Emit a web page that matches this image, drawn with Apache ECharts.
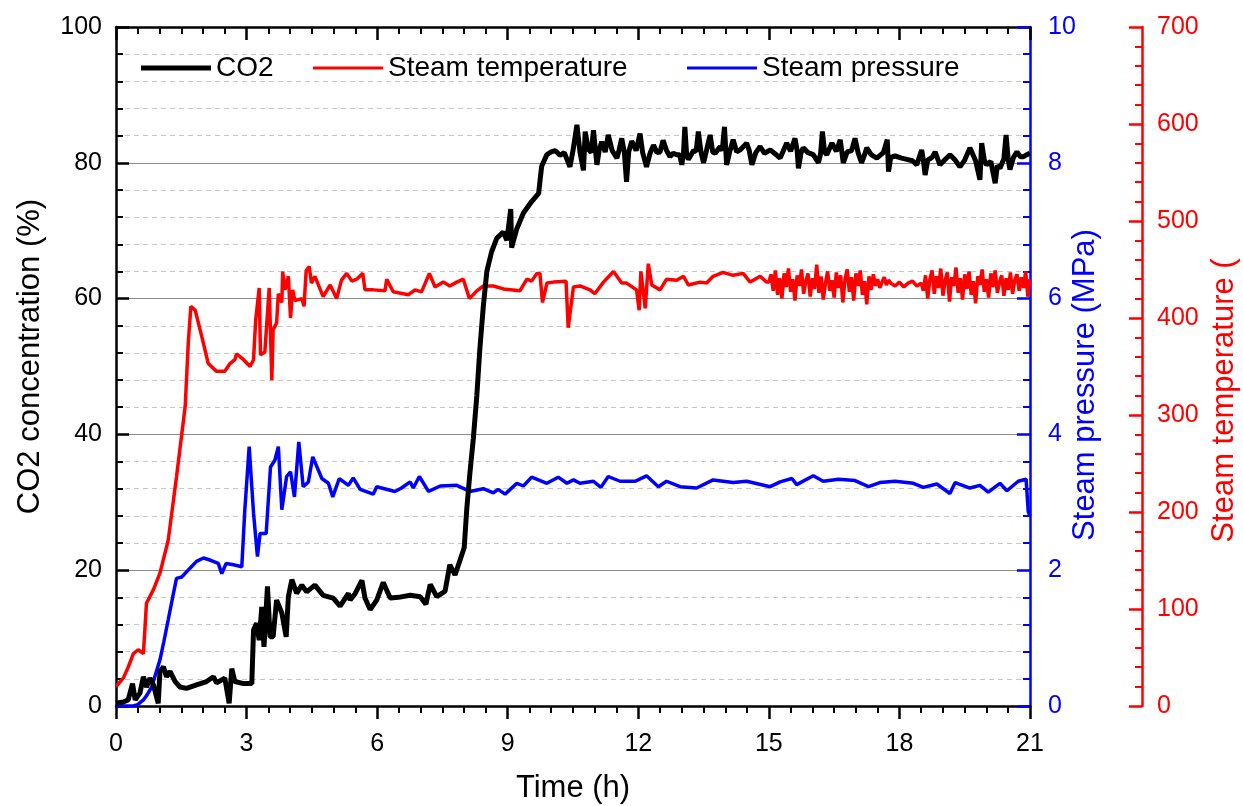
<!DOCTYPE html>
<html>
<head>
<meta charset="utf-8">
<title>CO2 concentration, steam temperature and pressure</title>
<script src="https://cdn.jsdelivr.net/npm/echarts@6/dist/echarts.min.js"></script>
<style>
  html, body { margin: 0; padding: 0; background: #fff; }
  #main { width: 1243px; height: 806px; }
</style>
</head>
<body>
<div id="main"></div>
<script>
// [time (h), CO2 concentration (%)]
var co2Data = [
  [0, 0.4], [0.17, 0.6], [0.28, 0.9], [0.38, 3.3], [0.44, 0.9], [0.55, 1.9], [0.63, 4.3], [0.7, 2.8],
  [0.78, 4.1], [0.86, 3.1], [0.97, 0.4], [1.01, 5.1], [1.09, 5.8], [1.16, 4.3], [1.24, 5.1], [1.36, 3.6],
  [1.47, 2.8], [1.62, 2.6], [1.85, 3.1], [2.08, 3.6], [2.24, 4.3], [2.31, 3.4], [2.5, 4.1], [2.6, 0.4],
  [2.66, 5.5], [2.73, 3.6], [2.93, 3.3], [3.12, 3.3], [3.16, 11.2], [3.23, 12.2], [3.29, 9.7], [3.35, 14.6],
  [3.4, 8.7], [3.48, 17.6], [3.54, 10.2], [3.61, 10.2], [3.69, 15.6], [3.81, 13.7], [3.91, 10.2], [3.96, 16.1],
  [4.04, 18.6], [4.15, 16.6], [4.27, 17.8], [4.38, 16.8], [4.57, 17.8], [4.76, 16.3], [4.99, 15.9], [5.15, 14.7],
  [5.34, 16.6], [5.38, 15.6], [5.49, 16.5], [5.65, 18.5], [5.72, 15.9], [5.84, 14.2], [5.99, 15.6], [6.14, 18.2],
  [6.3, 15.9], [6.49, 16.0], [6.76, 16.3], [6.99, 16.1], [7.12, 15.0], [7.22, 17.9], [7.37, 16.1], [7.56, 16.9],
  [7.67, 20.8], [7.79, 19.3], [8.0, 23.3], [8.06, 29.1], [8.13, 34.2], [8.21, 39.4], [8.29, 45.7], [8.36, 52.6],
  [8.44, 58.9], [8.52, 64.0], [8.63, 66.9], [8.75, 68.9], [8.9, 69.8], [8.98, 68.6], [9.07, 73.2], [9.09, 67.5],
  [9.21, 70.3], [9.36, 72.6], [9.55, 74.3], [9.71, 75.5], [9.78, 79.5], [9.9, 81.2], [10.0, 81.6], [10.09, 81.8],
  [10.2, 81.1], [10.3, 81.5], [10.43, 79.4], [10.5, 81.8], [10.59, 85.6], [10.66, 81.6], [10.74, 78.9], [10.78, 84.6],
  [10.85, 82.0], [10.92, 81.5], [10.97, 84.8], [11.02, 81.6], [11.05, 79.7], [11.1, 81.8], [11.16, 83.1], [11.24, 81.6],
  [11.31, 84.1], [11.4, 81.8], [11.51, 80.7], [11.56, 81.9], [11.62, 83.6], [11.68, 81.5], [11.73, 77.2], [11.78, 81.6],
  [11.85, 83.2], [11.95, 81.8], [12.04, 84.3], [12.1, 81.5], [12.19, 79.4], [12.27, 81.4], [12.35, 82.6], [12.43, 81.5],
  [12.5, 81.6], [12.57, 83.3], [12.65, 81.8], [12.73, 80.9], [12.8, 81.4], [12.88, 81.2], [12.95, 81.2], [13.0, 79.7],
  [13.04, 81.6], [13.07, 85.3], [13.11, 81.3], [13.15, 80.5], [13.27, 81.8], [13.33, 81.7], [13.38, 84.6], [13.44, 81.6],
  [13.5, 80.0], [13.57, 81.9], [13.65, 84.1], [13.71, 81.6], [13.77, 81.4], [13.88, 82.4], [13.93, 81.8], [13.98, 85.3],
  [14.03, 79.7], [14.1, 81.6], [14.18, 83.4], [14.26, 81.6], [14.34, 81.9], [14.49, 82.9], [14.55, 81.8], [14.61, 79.7],
  [14.7, 81.5], [14.8, 82.4], [14.9, 81.4], [15.03, 81.9], [15.15, 81.3], [15.26, 80.7], [15.41, 82.9], [15.5, 81.7],
  [15.6, 83.6], [15.65, 81.8], [15.68, 79.2], [15.74, 81.5], [15.79, 82.2], [15.9, 81.5], [16.02, 81.2], [16.14, 80.0],
  [16.19, 81.4], [16.23, 84.6], [16.28, 81.6], [16.33, 81.2], [16.45, 82.9], [16.55, 81.7], [16.64, 83.4], [16.71, 80.0],
  [16.8, 81.6], [16.9, 81.8], [16.98, 83.6], [17.05, 81.5], [17.13, 80.0], [17.2, 81.2], [17.25, 82.2], [17.35, 81.2],
  [17.48, 80.7], [17.63, 81.5], [17.72, 83.4], [17.75, 78.7], [17.8, 80.8], [17.9, 81.0], [18.05, 80.7], [18.17, 80.5],
  [18.3, 80.3], [18.4, 79.7], [18.51, 81.9], [18.55, 80.4], [18.59, 78.2], [18.65, 80.4], [18.75, 80.8], [18.82, 81.6],
  [18.93, 79.7], [19.05, 80.5], [19.16, 81.2], [19.28, 80.4], [19.39, 79.4], [19.5, 80.4], [19.62, 82.2], [19.75, 80.3],
  [19.85, 77.5], [19.89, 82.9], [19.95, 80.4], [20.0, 79.7], [20.1, 80.2], [20.2, 77.0], [20.25, 79.6], [20.31, 79.2],
  [20.4, 80.6], [20.45, 84.1], [20.5, 80.4], [20.54, 79.0], [20.62, 80.8], [20.7, 81.6], [20.78, 80.9], [20.85, 80.9],
  [20.93, 81.2], [21.0, 81.4]
];

// [time (h), steam temperature (°C)]
var steamTempData = [
  [0, 20], [0.17, 29], [0.28, 40], [0.4, 54], [0.51, 58], [0.63, 54], [0.67, 53], [0.7, 106],
  [0.86, 120], [1.01, 137], [1.2, 171], [1.39, 236], [1.59, 309], [1.66, 374], [1.72, 412], [1.82, 408],
  [1.97, 381], [2.12, 353], [2.31, 345], [2.5, 345], [2.62, 353], [2.73, 357], [2.77, 363], [2.93, 357],
  [3.08, 350], [3.16, 357], [3.21, 398], [3.29, 431], [3.32, 362], [3.42, 365], [3.52, 431], [3.58, 336],
  [3.61, 388], [3.69, 395], [3.73, 425], [3.81, 416], [3.83, 448], [3.88, 429], [3.96, 443], [4.01, 400],
  [4.06, 429], [4.11, 418], [4.27, 420], [4.32, 412], [4.37, 449], [4.44, 453], [4.49, 436], [4.57, 443],
  [4.76, 422], [4.92, 434], [5.07, 420], [5.18, 439], [5.3, 446], [5.42, 438], [5.53, 440], [5.67, 446],
  [5.72, 429], [5.91, 429], [6.18, 428], [6.22, 440], [6.37, 427], [6.72, 424], [6.87, 429], [7.02, 427],
  [7.2, 446], [7.33, 432], [7.52, 437], [7.67, 433], [7.83, 437], [7.98, 440], [8.12, 420], [8.29, 428],
  [8.44, 433], [8.67, 433], [8.9, 430], [9.28, 428], [9.44, 440], [9.55, 438], [9.67, 446], [9.74, 446],
  [9.8, 416], [9.9, 436], [10.05, 437], [10.34, 438], [10.39, 390], [10.51, 432], [10.66, 433], [10.89, 429],
  [11.0, 425], [11.2, 437], [11.43, 448], [11.62, 436], [11.73, 436], [11.96, 429], [12.02, 408], [12.06, 448],
  [12.16, 410], [12.23, 456], [12.31, 434], [12.5, 429], [12.65, 440], [12.88, 439], [13.04, 443], [13.15, 434],
  [13.42, 437], [13.57, 436], [13.72, 443], [13.95, 447], [14.18, 444], [14.41, 446], [14.57, 437], [14.8, 443],
  [14.95, 437], [15.0, 437], [15.05, 445], [15.1, 428], [15.15, 449], [15.2, 424], [15.25, 441], [15.3, 420],
  [15.35, 446], [15.4, 432], [15.45, 451], [15.5, 427], [15.55, 440], [15.6, 418], [15.65, 444], [15.7, 433],
  [15.75, 450], [15.8, 425], [15.85, 438], [15.9, 446], [15.95, 422], [16.0, 441], [16.05, 430], [16.1, 455],
  [16.15, 426], [16.2, 443], [16.25, 419], [16.3, 436], [16.35, 448], [16.4, 428], [16.45, 439], [16.5, 421],
  [16.55, 447], [16.6, 431], [16.65, 444], [16.7, 416], [16.75, 440], [16.8, 450], [16.85, 427], [16.9, 442],
  [16.95, 418], [17.0, 446], [17.05, 433], [17.1, 449], [17.15, 424], [17.2, 438], [17.25, 414], [17.3, 443],
  [17.35, 429], [17.4, 445], [17.45, 433], [17.5, 440], [17.55, 431], [17.6, 437], [17.65, 442], [17.7, 434],
  [17.75, 439], [17.8, 436], [17.9, 433], [18.0, 437], [18.1, 432], [18.2, 436], [18.3, 438], [18.4, 433],
  [18.5, 436], [18.55, 428], [18.6, 444], [18.65, 420], [18.7, 440], [18.75, 449], [18.8, 425], [18.85, 443],
  [18.9, 431], [18.95, 451], [19.0, 423], [19.05, 439], [19.1, 447], [19.15, 417], [19.2, 442], [19.25, 433],
  [19.3, 452], [19.35, 426], [19.4, 441], [19.45, 419], [19.5, 445], [19.55, 430], [19.6, 448], [19.65, 424],
  [19.7, 438], [19.75, 415], [19.8, 443], [19.85, 434], [19.9, 450], [19.95, 427], [20.0, 440], [20.05, 421],
  [20.1, 446], [20.15, 432], [20.2, 449], [20.25, 426], [20.3, 437], [20.35, 444], [20.4, 423], [20.45, 441],
  [20.5, 429], [20.55, 447], [20.6, 425], [20.65, 439], [20.7, 445], [20.75, 428], [20.8, 442], [20.85, 431],
  [20.9, 448], [20.95, 422], [21.0, 440]
];

// [time (h), steam pressure (MPa)]
var steamPressData = [
  [0, 0], [0.4, 0], [0.5, 0.02], [0.63, 0.09], [0.7, 0.15], [0.82, 0.28], [0.9, 0.45], [1.01, 0.68],
  [1.1, 0.95], [1.2, 1.27], [1.32, 1.66], [1.39, 1.88], [1.51, 1.9], [1.7, 2.03], [1.85, 2.13], [2.01, 2.18],
  [2.16, 2.15], [2.35, 2.1], [2.43, 1.95], [2.53, 2.1], [2.7, 2.08], [2.89, 2.05], [2.96, 2.89], [3.06, 3.82],
  [3.16, 2.84], [3.25, 2.2], [3.31, 2.54], [3.45, 2.54], [3.55, 3.52], [3.65, 3.62], [3.73, 3.82], [3.81, 2.89],
  [3.92, 3.38], [4.01, 3.45], [4.1, 3.08], [4.2, 3.89], [4.3, 3.23], [4.42, 3.3], [4.52, 3.67], [4.73, 3.35],
  [4.88, 3.28], [4.98, 3.08], [5.13, 3.35], [5.34, 3.25], [5.45, 3.36], [5.61, 3.19], [5.91, 3.12], [5.99, 3.23],
  [6.41, 3.16], [6.56, 3.21], [6.76, 3.3], [6.83, 3.21], [6.97, 3.38], [7.18, 3.16], [7.45, 3.24], [7.83, 3.25],
  [8.13, 3.16], [8.44, 3.2], [8.67, 3.14], [8.78, 3.19], [8.94, 3.12], [9.21, 3.28], [9.36, 3.24], [9.55, 3.37],
  [9.9, 3.28], [10.16, 3.37], [10.36, 3.28], [10.51, 3.33], [10.66, 3.28], [10.97, 3.31], [11.14, 3.22], [11.31, 3.38],
  [11.58, 3.31], [11.93, 3.31], [12.19, 3.39], [12.46, 3.23], [12.65, 3.31], [12.96, 3.23], [13.34, 3.21], [13.72, 3.33],
  [14.18, 3.29], [14.49, 3.31], [15.03, 3.23], [15.26, 3.3], [15.53, 3.35], [15.64, 3.26], [16.02, 3.39], [16.25, 3.31],
  [16.6, 3.34], [16.98, 3.32], [17.29, 3.23], [17.55, 3.29], [17.9, 3.31], [18.32, 3.28], [18.55, 3.22], [18.86, 3.27],
  [19.16, 3.13], [19.28, 3.29], [19.62, 3.21], [19.85, 3.25], [20.04, 3.15], [20.31, 3.28], [20.47, 3.17], [20.73, 3.31],
  [20.91, 3.34], [20.96, 2.86], [21.0, 2.8]
];

// axis ranges: [min, max, interval]
var timeRange = [0, 21, 3];
var co2Range = [0, 100, 20];
var pressRange = [0, 10, 2];
var tempRange = [0, 700, 100];

var FONT = "'Liberation Sans', Arial, sans-serif";

function yAxisBase(range, color) {
  return {
    type: 'value',
    min: range[0],
    max: range[1],
    interval: range[2],
    axisLine: { show: true, onZero: false, lineStyle: { color: color, width: 2.5 } },
    axisTick: { show: true, inside: true, length: 13, lineStyle: { color: color, width: 2.5 } },
    minorTick: { show: true, splitNumber: 5, length: 7, lineStyle: { color: color, width: 2 } },
    splitLine: { show: false },
    axisLabel: { color: color, fontSize: 25, fontFamily: FONT },
    nameLocation: 'middle',
    nameRotate: 90,
    nameMoveOverlap: false,
    nameTextStyle: { color: color, fontSize: 31, fontFamily: FONT }
  };
}

var leftAxis = yAxisBase(co2Range, '#000');
leftAxis.position = 'left';
leftAxis.name = 'CO2 concentration (%)';
leftAxis.nameGap = 70;
leftAxis.axisLabel.margin = 14;
leftAxis.splitLine = { show: true, lineStyle: { color: '#8c8c8c', width: 1 } };
leftAxis.minorSplitLine = { show: true, lineStyle: { color: '#c8c8c8', width: 1, type: [5, 4] } };
leftAxis.nameTextStyle.padding = [0, 0, 0, 20];

var pressAxis = yAxisBase(pressRange, '#0000ff');
pressAxis.position = 'right';
pressAxis.name = 'Steam pressure (MPa)';
pressAxis.nameGap = 40;
pressAxis.axisLabel.margin = 18;
pressAxis.nameTextStyle.padding = [0, 37, 0, 0];

var tempAxis = yAxisBase(tempRange, '#ff0000');
tempAxis.position = 'right';
tempAxis.offset = 112;
tempAxis.name = 'Steam temperature (';
tempAxis.nameGap = 67;
tempAxis.axisLabel.margin = 15;
tempAxis.nameTextStyle.padding = [0, 68, 0, 0];

function xAxisBase(pos) {
  return {
    type: 'value',
    position: pos,
    min: timeRange[0],
    max: timeRange[1],
    interval: timeRange[2],
    axisLine: { show: true, onZero: false, lineStyle: { color: '#000', width: 2.5 } },
    axisTick: { show: true, inside: pos === 'top', length: 13, lineStyle: { color: '#000', width: 2.5 } },
    minorTick: { show: true, splitNumber: 6, length: 7, lineStyle: { color: '#000', width: 2 } },
    splitLine: { show: false },
    axisLabel: { show: pos === 'bottom', color: '#000', fontSize: 25, fontFamily: FONT, margin: 26 }
  };
}

var timeAxis = xAxisBase('bottom');
timeAxis.name = 'Time (h)';
timeAxis.nameLocation = 'middle';
timeAxis.nameGap = 67;
timeAxis.nameMoveOverlap = false;
timeAxis.nameTextStyle = { color: '#000', fontSize: 31, fontFamily: FONT };

var topAxis = xAxisBase('top');

// one legend per entry so each can sit where it does in the figure
function legendItem(name, left, thick) {
  return {
    data: [name],
    left: left,
    top: 54,
    padding: 0,
    icon: 'rect',
    itemWidth: 70,
    itemHeight: thick,
    textStyle: { color: '#000', fontSize: 28, fontFamily: FONT, lineHeight: 28 }
  };
}

var chart = echarts.init(document.getElementById('main'));

chart.setOption({
  animation: false,
  backgroundColor: '#fff',
  grid: { left: 116, right: 213, top: 27, bottom: 100, containLabel: false, outerBoundsMode: 'none' },
  legend: [
    legendItem('CO2', 141, 5),
    legendItem('Steam temperature', 313, 3),
    legendItem('Steam pressure', 687, 3)
  ],
  xAxis: [timeAxis, topAxis],
  yAxis: [leftAxis, pressAxis, tempAxis],
  series: [
    {
      name: 'Steam pressure',
      type: 'line',
      xAxisIndex: 0,
      yAxisIndex: 1,
      data: steamPressData,
      symbol: 'none',
      lineStyle: { color: '#0000ff', width: 3.5 },
      itemStyle: { color: '#0000ff' },
      z: 3
    },
    {
      name: 'Steam temperature',
      type: 'line',
      xAxisIndex: 0,
      yAxisIndex: 2,
      data: steamTempData,
      symbol: 'none',
      lineStyle: { color: '#ff0000', width: 3.5 },
      itemStyle: { color: '#ff0000' },
      z: 4
    },
    {
      name: 'CO2',
      type: 'line',
      xAxisIndex: 0,
      yAxisIndex: 0,
      data: co2Data,
      symbol: 'none',
      lineStyle: { color: '#000', width: 5 },
      itemStyle: { color: '#000' },
      z: 5
    }
  ]
});
</script>
</body>
</html>
